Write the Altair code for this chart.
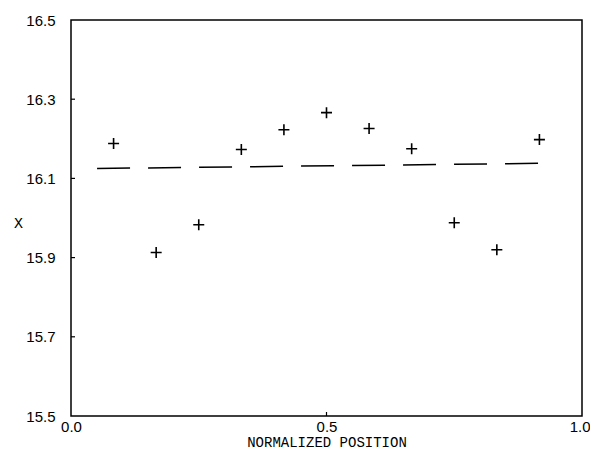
import altair as alt
import pandas as pd

# Measured points (plus markers)
pos = [1/12, 2/12, 3/12, 4/12, 5/12, 6/12, 7/12, 8/12, 9/12, 10/12, 11/12]
xval = [16.188, 15.913, 15.983, 16.173, 16.223, 16.266, 16.226, 16.175, 15.988, 15.920, 16.198]

# Fitted (dashed) line end points
fit_pos = [0.051, 0.916]
fit_val = [16.125, 16.138]

# Tick values
y_ticks = [15.5, 15.7, 15.9, 16.1, 16.3, 16.5]
x_ticks = [0.0, 0.5, 1.0]
y_inner_ticks = [15.7, 15.9, 16.1, 16.3]
x_inner_ticks = [0.5]

pts = pd.DataFrame({"pos": pos, "x": xval})
fit = pd.DataFrame({"pos": fit_pos, "x": fit_val})
yt = pd.DataFrame({"v": y_inner_ticks})
xt = pd.DataFrame({"v": x_inner_ticks})

xscale = alt.Scale(domain=[0, 1], nice=False, zero=False)
yscale = alt.Scale(domain=[15.5, 16.5], nice=False, zero=False)

xaxis = alt.Axis(
    title="NORMALIZED POSITION", values=x_ticks, format=".1f", grid=False,
    ticks=False, domain=False, labelFont="Liberation Sans", labelFontSize=15,
    labelColor="black", labelPadding=3, labelFlush=False,
    labelAlign=alt.condition("datum.value >= 1", alt.value("right"), alt.value("center")),
    labelOffset=alt.condition("datum.value >= 1", alt.value(8), alt.value(0)),
    titleFont="Liberation Mono", titleFontSize=14, titleFontWeight="normal",
    titleColor="black", titleY=30, titleBaseline="alphabetic",
)
yaxis = alt.Axis(
    title="X", values=y_ticks, format=".1f", grid=False, ticks=False,
    domain=False, labelFont="Liberation Sans", labelFontSize=15,
    labelColor="black", labelPadding=16, labelFlush=False,
    titleFont="Liberation Mono", titleFontSize=15, titleFontWeight="normal",
    titleColor="black", titleAngle=0, titleX=-53, titleY=202,
    titleAlign="center", titleBaseline="middle",
)

points = alt.Chart(pts).mark_point(
    shape="M-1,0H1M0,-1V1", size=121, filled=False, stroke="black",
    strokeWidth=1.6, opacity=1,
).encode(
    x=alt.X("pos:Q", scale=xscale, axis=xaxis),
    y=alt.Y("x:Q", scale=yscale, axis=yaxis),
)

line = alt.Chart(fit).mark_line(
    color="black", strokeWidth=1.5, strokeDash=[33, 18],
).encode(
    x=alt.X("pos:Q", scale=xscale),
    y=alt.Y("x:Q", scale=yscale),
)

ytick_marks = alt.Chart(yt).mark_rule(color="black", strokeWidth=1.2).encode(
    y=alt.Y("v:Q", scale=yscale),
    x=alt.value(0), x2=alt.value(4),
)
xtick_marks = alt.Chart(xt).mark_rule(color="black", strokeWidth=1.2).encode(
    x=alt.X("v:Q", scale=xscale),
    y=alt.value(396), y2=alt.value(392),
)

chart = alt.layer(line, points, ytick_marks, xtick_marks).properties(
    width=511, height=396,
    autosize=alt.AutoSizeParams(type="none"),
    padding={"left": 63, "top": 12, "right": 8, "bottom": 33},
    background="white",
).configure_view(stroke="black", strokeWidth=1.5)

chart.save("out.html", embed_options={"renderer": "svg", "actions": False})
